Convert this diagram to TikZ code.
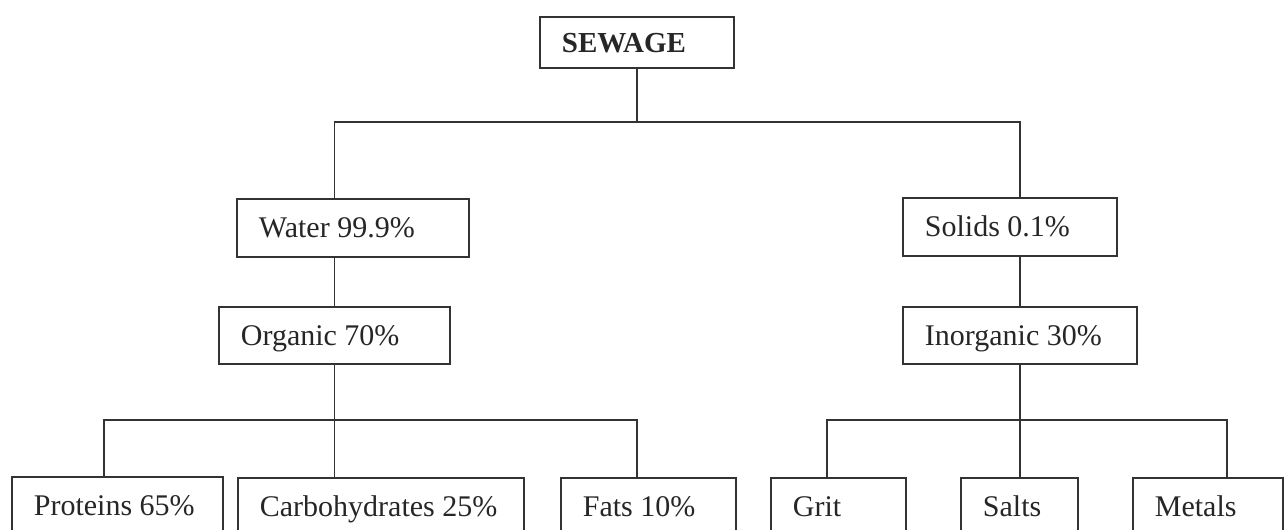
\documentclass[tikz,border=0pt]{standalone}
\usepackage{fontspec}
\setmainfont{Liberation Serif}
\begin{document}
\begin{tikzpicture}[x=0.5pt,y=-0.5pt,font=\fontsize{15}{18}\selectfont]
\tikzset{box/.style = {draw=black!80, line width=0.9pt, text=black!85, anchor=north west,
  inner xsep=11pt, inner ysep=0pt, align=flush left, text width=#1,
  text height=10pt, text depth=0pt, minimum height=28.5pt},
  link/.style = {draw=black!80, line width=0.9pt}}
\clip (0,0) rectangle (1285,530); % bottom row is cut by the page
% top
\node[box=75pt, minimum height=25.5pt, font=\fontsize{14.5}{17}\selectfont\bfseries] (sewage) at (539,16) {SEWAGE};
\node[box=94pt, minimum height=29pt] (water) at (236,198) {Water 99.9\%};
\node[box=85pt, minimum height=29pt] (solids) at (902,197) {Solids 0.1\%};
\node[box=93.5pt] (organic) at (218,306) {Organic 70\%};
\node[box=95pt] (inorganic) at (902,306) {Inorganic 30\%};
% bottom row
\node[box=83.5pt] (proteins) at (11,476) {Proteins 65\%};
\node[box=121pt] (carbs) at (237,477) {Carbohydrates 25\%};
\node[box=65.5pt] (fats) at (560,477) {Fats 10\%};
\node[box=45.5pt] (grit) at (770,477) {Grit};
\node[box=36.5pt] (salts) at (960,477) {Salts};
\node[box=53pt] (metals) at (1132,477) {Metals};
% bus lines
\coordinate (top bus) at (635,122);
\coordinate (left bus west) at (104,420);
\coordinate (left bus east) at (637,420);
\coordinate (right bus west) at (827,420);
\coordinate (right bus east) at (1227,420);
% connectors
\path[link] (sewage.south) -- (sewage.south |- top bus);
\path[link] (organic.north |- water.north) -- (organic.north |- top bus)
  -- (inorganic.north |- top bus) -- (inorganic.north |- solids.north);
\path[link] (organic.north |- water.south) -- (organic.north);
\path[link] (inorganic.north |- solids.south) -- (inorganic.north);
\path[link] (organic.south) -- (organic.south |- carbs.north);
\path[link] (proteins.north -| left bus west) -- (left bus west) -- (left bus east) -- (fats.north -| left bus east);
\path[link] (inorganic.south) -- (inorganic.south |- salts.north);
\path[link] (grit.north -| right bus west) -- (right bus west) -- (right bus east) -- (metals.north -| right bus east);
\end{tikzpicture}
\end{document}
